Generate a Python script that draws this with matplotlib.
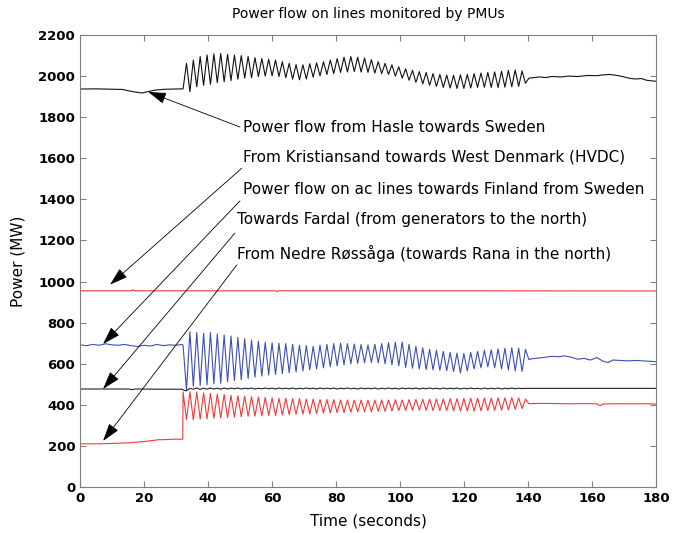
import numpy as np
import matplotlib
matplotlib.use("Agg")
import matplotlib.pyplot as plt

# PMU power flow recordings (MW)

t_step = 1.07          # about half the period of the ~0.47 Hz swing
t_start = 32.2         # disturbance

# --- Hasle -> Sweden (black, top)
hasle_pre_t = [0, 5, 10, 13.3, 15.3, 17.4, 19.4, 21.4, 23.5, 26.5, 29.5, 32.0]
hasle_pre_v = [1937, 1938, 1936, 1935, 1928, 1922, 1918, 1925, 1932, 1936, 1937, 1938]
hasle_osc = [1938, 2062, 1924, 2078, 1948, 2095, 1955, 2103, 1960, 2108,
             1968, 2110, 1972, 2106, 1978, 2102, 1985, 2100, 1990, 2096,
             1992, 2090, 1998, 2086, 2000, 2082, 2002, 2078, 1998, 2070,
             1992, 2062, 1985, 2056, 1982, 2055, 1986, 2060, 1995, 2064,
             2002, 2070, 2008, 2078, 2012, 2085, 2018, 2092, 2020, 2095,
             2022, 2092, 2020, 2088, 2018, 2080, 2015, 2070, 2012, 2062,
             2008, 2055, 2000, 2045, 1990, 2035, 1980, 2028, 1970, 2022,
             1962, 2018, 1955, 2012, 1950, 2008, 1945, 2005, 1942, 2004,
             1940, 2006, 1940, 2008, 1942, 2012, 1945, 2015, 1946, 2018,
             1945, 2020, 1944, 2024, 1946, 2028, 1948, 2030, 1950, 2025,
             1965, 1990]
hasle_post_t = [141.5, 143.5, 145.5, 147.5, 150.5, 152.5, 155.5, 158.5, 161.5,
                163.5, 165.5, 167.5, 169.5, 171.5, 173.5, 175.5, 177, 178.5, 180]
hasle_post_v = [1992, 1996, 1993, 1998, 1996, 2000, 1998, 2003, 2002, 2006,
                2008, 2004, 1998, 1990, 1986, 1988, 1980, 1977, 1975]

# --- Kristiansand -> West Denmark HVDC (red, flat)
hvdc_t = [0, 16.0, 16.5, 17.0, 61, 61.5, 62, 122, 180]
hvdc_v = [955, 955, 960, 955, 955, 951, 955, 955, 954]

# --- ac lines towards Finland (blue)
fin_pre_t = [0, 2, 4, 6, 8, 10, 12, 14, 16, 18, 20, 22, 24, 26, 28, 30, 32]
fin_pre_v = [692, 688, 694, 690, 697, 692, 690, 694, 688, 684, 690, 686,
             694, 688, 692, 690, 694]
fin_osc = [690, 472, 756, 490, 752, 495, 748, 498, 752, 502,
           745, 505, 740, 512, 735, 518, 728, 522, 722, 528,
           715, 535, 710, 540, 705, 545, 702, 548, 700, 552,
           698, 556, 695, 560, 690, 565, 688, 570, 685, 575,
           690, 580, 694, 585, 698, 590, 700, 595, 698, 600,
           696, 602, 694, 605, 692, 606, 695, 604, 698, 600,
           702, 595, 705, 590, 706, 582, 695, 578, 685, 575,
           678, 572, 670, 570, 665, 568, 660, 566, 655, 562,
           652, 555, 650, 565, 655, 575, 660, 580, 665, 585,
           668, 580, 672, 575, 675, 570, 678, 565, 676, 562,
           670, 620]
fin_post_t = [141.5, 143.5, 145.5, 147.5, 149.5, 151.5, 153.5, 155.5, 157.5,
              159.5, 161.5, 163.5, 165, 166.5, 168.5, 171, 173.5, 176, 178, 180]
fin_post_v = [625, 628, 632, 636, 634, 638, 632, 622, 626, 618, 630, 612,
              606, 618, 616, 614, 616, 614, 612, 610]

# --- Towards Fardal (black, ~475)
far_pre_t = [0, 10, 15.3, 16.3, 17.3, 25, 32.0]
far_pre_v = [477, 477, 477, 474, 477, 476, 476]
far_osc = [472, 468, 480, 476, 482, 475, 481, 476, 482, 477,
           481, 476, 482, 477, 481, 478, 482, 477, 481, 478,
           482, 477, 481, 478, 482, 478, 481, 477, 482, 478,
           481, 478, 482, 477, 481, 478, 482, 478, 481, 477,
           482, 478, 481, 478, 482, 477, 481, 478, 482, 478,
           481, 477, 482, 478, 481, 478, 482, 477, 481, 478,
           482, 478, 481, 477, 482, 478, 481, 478, 482, 477,
           481, 478, 482, 478, 481, 477, 482, 478, 481, 478,
           482, 477, 481, 478, 482, 478, 481, 477, 482, 478,
           481, 478, 482, 477, 481, 478, 482, 478, 481, 479,
           480, 480]
far_post_t = [141.5, 150, 165, 180]
far_post_v = [480, 480, 480, 480]

# --- Nedre Rossaga (red, low)
ned_pre_t = [0, 4, 8, 12, 16, 20.4, 22.5, 24.5, 27.5, 29.6, 31.6, 32.1]
ned_pre_v = [210, 210, 211, 213, 216, 222, 226, 230, 231, 233, 232, 234]
ned_osc = [462, 328, 464, 326, 462, 330, 458, 332, 455, 334,
           452, 336, 450, 338, 446, 340, 444, 342, 442, 344,
           440, 345, 438, 346, 436, 348, 434, 348, 432, 350,
           432, 352, 430, 354, 430, 355, 428, 356, 428, 358,
           426, 360, 426, 360, 425, 362, 424, 362, 424, 364,
           423, 365, 423, 366, 422, 366, 423, 368, 424, 368,
           424, 370, 425, 372, 424, 372, 425, 374, 426, 374,
           427, 373, 428, 372, 428, 372, 429, 372, 430, 371,
           430, 370, 431, 370, 432, 370, 432, 371, 433, 372,
           433, 373, 434, 374, 434, 376, 435, 378, 434, 382,
           428, 405]
ned_post_t = [141.5, 144.5, 149, 153, 158, 161.5, 162.5, 163.5, 168, 173, 177, 180]
ned_post_v = [406, 407, 406, 405, 406, 405, 396, 404, 405, 405, 405, 404]

labels = ["Power flow from Hasle towards Sweden",
          "From Kristiansand towards West Denmark (HVDC)",
          "Power flow on ac lines towards Finland from Sweden",
          "Towards Fardal (from generators to the north)",
          "From Nedre Røssåga (towards Rana in the north)"]


def join(pre_t, pre_v, osc, post_t, post_v):
    t_osc = t_start + t_step * np.arange(len(osc))
    t = np.concatenate([pre_t, t_osc, post_t])
    v = np.concatenate([pre_v, osc, post_v])
    return t, v


plt.rcParams['font.family'] = 'DejaVu Sans'
fig = plt.figure(figsize=(6.73, 5.33), dpi=100)
ax = fig.add_axes([0.1189, 0.0863, 0.8559, 0.848])

red = '#f03a3a'
blue = '#3d4fb4'
lw = 0.8

t, v = join(hasle_pre_t, hasle_pre_v, hasle_osc, hasle_post_t, hasle_post_v)
ax.plot(t, v, color='#111111', lw=lw)
ax.plot(hvdc_t, hvdc_v, color=red, lw=lw)
t, v = join(fin_pre_t, fin_pre_v, fin_osc, fin_post_t, fin_post_v)
ax.plot(t, v, color=blue, lw=lw)
t, v = join(far_pre_t, far_pre_v, far_osc, far_post_t, far_post_v)
ax.plot(t, v, color='#222222', lw=lw)
t, v = join(ned_pre_t, ned_pre_v, ned_osc, ned_post_t, ned_post_v)
ax.plot(t, v, color=red, lw=lw)

# annotations: text anchor, arrow start, arrow tip (data coords)
text_pos = [(50.9, 1752), (50.9, 1606), (50.9, 1446), (49.1, 1300), (49.1, 1139)]
arrow_from = [(50.0, 1752), (50.5, 1551), (50.0, 1393), (48.4, 1236), (49.0, 1081)]
arrow_to = [(21.3, 1923), (9.4, 985), (7.2, 696), (7.2, 477), (7.2, 224)]

for lab, tp, a0, a1 in zip(labels, text_pos, arrow_from, arrow_to):
    ax.text(tp[0], tp[1], lab, ha='left', va='center', fontsize=11)
    ax.annotate('', xy=a1, xytext=a0,
                arrowprops=dict(arrowstyle='-|>,head_length=0.8,head_width=0.25',
                                color='k', lw=0.6, mutation_scale=14,
                                shrinkA=0, shrinkB=0))

ax.set_xlim(0, 180)
ax.set_ylim(0, 2200)
ax.set_xticks(np.arange(0, 181, 20))
ax.set_yticks(np.arange(0, 2201, 200))
ax.tick_params(direction='in', top=True, right=True, length=4,
               color='#808080', labelsize=9.5)
for lab in ax.get_xticklabels() + ax.get_yticklabels():
    lab.set_fontweight('bold')
for sp in ax.spines.values():
    sp.set_color('#808080')
    sp.set_linewidth(0.8)

ax.set_title("Power flow on lines monitored by PMUs", fontsize=10, pad=12)
ax.set_xlabel("Time (seconds)", fontsize=11)
ax.set_ylabel("Power (MW)", fontsize=11)
ax.xaxis.set_label_coords(0.5, -0.058)
ax.yaxis.set_label_coords(-0.095, 0.5)

fig.savefig("out.png", dpi=100)
